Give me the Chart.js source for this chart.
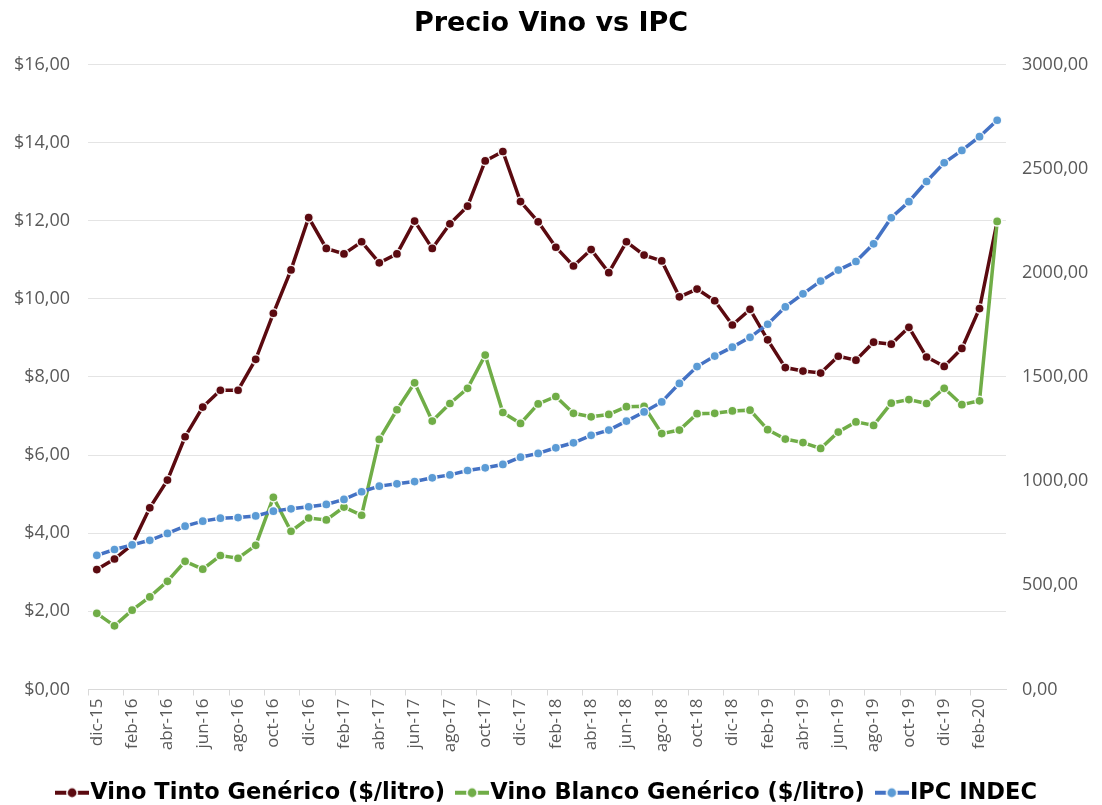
<!DOCTYPE html>
<html>
<head>
<meta charset="utf-8">
<script src="https://cdn.jsdelivr.net/npm/chart.js@4/dist/chart.umd.min.js"></script>
<style>
html, body { margin: 0; padding: 0; background: #fff; }
</style>
</head>
<body>
<canvas id="chart" width="1102" height="805"></canvas>
<script>
const months = [
    'dic-15', 'ene-16', 'feb-16', 'mar-16', 'abr-16', 'may-16', 'jun-16', 'jul-16', 'ago-16', 'sep-16', 'oct-16', 'nov-16',
    'dic-16', 'ene-17', 'feb-17', 'mar-17', 'abr-17', 'may-17', 'jun-17', 'jul-17', 'ago-17', 'sep-17', 'oct-17', 'nov-17',
    'dic-17', 'ene-18', 'feb-18', 'mar-18', 'abr-18', 'may-18', 'jun-18', 'jul-18', 'ago-18', 'sep-18', 'oct-18', 'nov-18',
    'dic-18', 'ene-19', 'feb-19', 'mar-19', 'abr-19', 'may-19', 'jun-19', 'jul-19', 'ago-19', 'sep-19', 'oct-19', 'nov-19',
    'dic-19', 'ene-20', 'feb-20', 'mar-20'
];

const vinoTinto = [
    3.07, 3.34, 3.71, 4.65, 5.36, 6.47, 7.23, 7.66, 7.66, 8.45,
    9.63, 10.74, 12.08, 11.29, 11.15, 11.46, 10.92, 11.15, 11.99, 11.29,
    11.92, 12.37, 13.53, 13.77, 12.49, 11.97, 11.32, 10.84, 11.26, 10.67,
    11.46, 11.12, 10.97, 10.05, 10.25, 9.95, 9.33, 9.73, 8.95, 8.24,
    8.15, 8.10, 8.53, 8.43, 8.89, 8.84, 9.27, 8.51, 8.27, 8.73,
    9.75, 11.98
];

const vinoBlanco = [
    1.95, 1.63, 2.03, 2.37, 2.77, 3.28, 3.08, 3.43, 3.36, 3.69,
    4.92, 4.05, 4.39, 4.34, 4.67, 4.46, 6.40, 7.16, 7.85, 6.87,
    7.32, 7.71, 8.56, 7.09, 6.81, 7.31, 7.50, 7.07, 6.98, 7.04,
    7.24, 7.25, 6.55, 6.64, 7.06, 7.07, 7.13, 7.15, 6.65, 6.41,
    6.32, 6.17, 6.59, 6.85, 6.76, 7.33, 7.42, 7.32, 7.71, 7.29,
    7.39, 11.98
];

const ipcIndec = [
    644, 672, 694, 716, 749, 784, 808, 822, 825, 833,
    856, 867, 877, 888, 912, 949, 976, 987, 998, 1016,
    1030, 1051, 1064, 1080, 1115, 1133, 1160, 1184, 1220, 1245,
    1288, 1332, 1380, 1469, 1550, 1600, 1643, 1690, 1753, 1836,
    1899, 1960, 2013, 2054, 2139, 2264, 2341, 2438, 2528, 2587,
    2653, 2732
];

const TICK_FONT = "'Open Sans', Lato, sans-serif";
const HEAD_FONT = "'DejaVu Sans', sans-serif";
const TICK_COLOR = '#595959';
const GRID_COLOR = '#e4e4e4';

// little line + dot sample for the legend
function legendIcon(lineColor, dotColor) {
    const c = document.createElement('canvas');
    c.width = 34; c.height = 14;
    const g = c.getContext('2d');
    g.strokeStyle = lineColor;
    g.lineWidth = 4;
    g.beginPath(); g.moveTo(0, 7); g.lineTo(34, 7); g.stroke();
    g.fillStyle = '#fff';
    g.beginPath(); g.arc(17, 7, 6, 0, Math.PI * 2); g.fill();
    g.fillStyle = dotColor;
    g.beginPath(); g.arc(17, 7, 4.4, 0, Math.PI * 2); g.fill();
    return c;
}

function fmt(v) {
    return v.toFixed(2).replace('.', ',');
}

const series = [
    { label: 'Vino Tinto Genérico ($/litro)', data: vinoTinto, line: '#5b0a10', dot: '#5b0a10', axis: 'y', order: 3 },
    { label: 'Vino Blanco Genérico ($/litro)', data: vinoBlanco, line: '#70ad47', dot: '#70ad47', axis: 'y', order: 2 },
    { label: 'IPC INDEC', data: ipcIndec, line: '#4472c4', dot: '#5b9bd5', axis: 'y1', order: 1 }
];
const icons = series.map(s => legendIcon(s.line, s.dot));

new Chart(document.getElementById('chart').getContext('2d'), {
    type: 'line',
    data: {
        labels: months,
        datasets: series.map(s => ({
            label: s.label,
            data: s.data,
            yAxisID: s.axis,
            order: s.order,
            borderColor: s.line,
            backgroundColor: s.dot,
            borderWidth: 3.5,
            tension: 0,
            pointRadius: 4.6,
            pointBorderWidth: 1.5,
            pointBorderColor: 'rgba(255,255,255,0.9)',
            pointBackgroundColor: s.dot
        }))
    },
    options: {
        responsive: false,
        animation: false,
        layout: { padding: { top: 8, right: 0, bottom: -9, left: 0 } },
        scales: {
            x: {
                offset: true,
                grid: {
                    offset: true,
                    drawOnChartArea: false,
                    drawTicks: true,
                    tickLength: 6,
                    color: ctx => (ctx.index % 2 === 0 ? '#d9d9d9' : 'rgba(0,0,0,0)')
                },
                border: { color: '#d9d9d9' },
                ticks: {
                    autoSkip: false,
                    minRotation: 90,
                    maxRotation: 90,
                    padding: 3,
                    color: TICK_COLOR,
                    font: { family: TICK_FONT, size: 17 },
                    callback: function (v, i) { return i % 2 === 0 ? this.getLabelForValue(v) : ''; }
                },
                afterFit: scale => { scale.height = 72; }
            },
            y: {
                position: 'left',
                min: 0, max: 16,
                grid: { color: GRID_COLOR, drawTicks: false, lineWidth: 1 },
                border: { display: false },
                ticks: {
                    stepSize: 2,
                    padding: 18,
                    color: TICK_COLOR,
                    font: { family: TICK_FONT, size: 18 },
                    callback: v => '$' + fmt(v)
                },
                afterFit: scale => { scale.width = 88; }
            },
            y1: {
                position: 'right',
                min: 0, max: 3000,
                grid: { drawOnChartArea: false, drawTicks: false },
                border: { display: false },
                ticks: {
                    stepSize: 500,
                    padding: 16,
                    color: TICK_COLOR,
                    font: { family: TICK_FONT, size: 18 },
                    callback: v => fmt(v)
                },
                afterFit: scale => { scale.width = 96; }
            }
        },
        plugins: {
            title: {
                display: true,
                text: 'Precio Vino vs IPC',
                color: '#000',
                font: { family: HEAD_FONT, size: 27, weight: 'bold' },
                padding: { top: 0, bottom: 24 }
            },
            legend: {
                position: 'bottom',
                labels: {
                    usePointStyle: true,
                    pointStyleWidth: 14,
                    padding: 20,
                    color: '#000',
                    font: { family: HEAD_FONT, size: 22.5, weight: 'bold' },
                    generateLabels: chart => chart.data.datasets.map((ds, i) => ({
                        text: ds.label,
                        pointStyle: icons[i],
                        fillStyle: ds.borderColor,
                        strokeStyle: ds.borderColor,
                        lineWidth: 0,
                        hidden: false,
                        datasetIndex: i,
                        fontColor: '#000'
                    }))
                }
            },
            tooltip: { enabled: false }
        }
    }
});
</script>
</body>
</html>
